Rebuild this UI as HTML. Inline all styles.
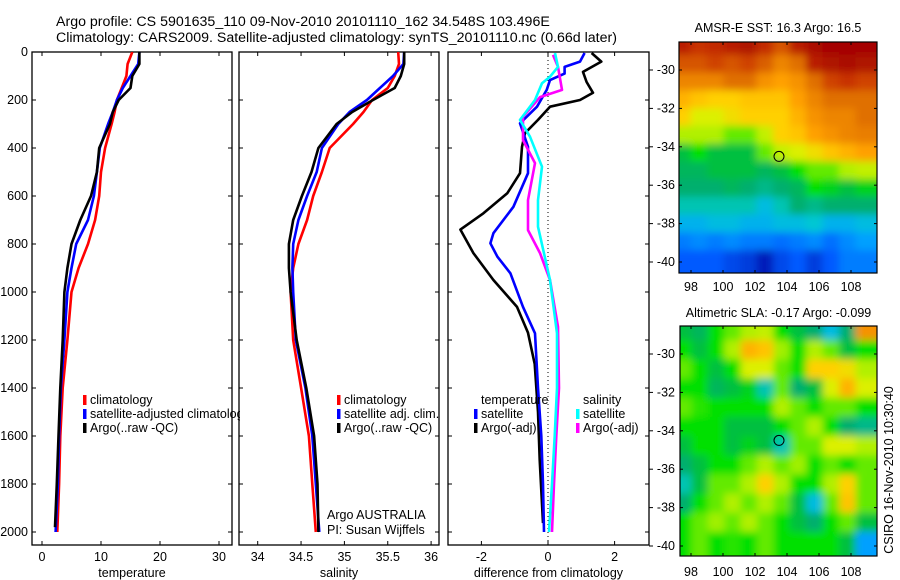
<!DOCTYPE html>
<html><head><meta charset="utf-8">
<style>
html,body{margin:0;padding:0;background:#fff;}
svg{display:block;font-family:"Liberation Sans",sans-serif;}
text{font-size:12.5px;fill:#000;}
</style></head>
<body>
<svg id="fig" width="900" height="580" viewBox="0 0 900 580">
<defs>
<clipPath id="cp1"><rect x="32" y="52" width="200" height="493"/></clipPath>
<clipPath id="cp2"><rect x="239" y="52" width="200" height="493"/></clipPath>
<clipPath id="cp3"><rect x="448" y="52" width="201" height="493"/></clipPath>
<clipPath id="cpLeg"><rect x="32" y="380" width="208" height="60"/></clipPath>
<clipPath id="cpM1"><rect x="679" y="42" width="198" height="231"/></clipPath>
<clipPath id="cpM2"><rect x="680" y="326" width="197" height="230"/></clipPath>
<filter id="bl" x="-10%" y="-10%" width="120%" height="120%"><feGaussianBlur stdDeviation="4"/></filter>
</defs>
<text x="56" y="26" style="font-size:14.2px">Argo profile: CS 5901635_110 09-Nov-2010 20101110_162 34.548S 103.496E</text>
<text x="56" y="42" style="font-size:14.2px">Climatology: CARS2009. Satellite-adjusted climatology: synTS_20101110.nc (0.66d later)</text>
<g id="root"></g>
</svg>
<script>
// ---------- data ----------
const depths = [0,50,100,150,200,250,300,400,500,600,700,800,900,1000,1200,1400,1600,1800,2000];
const tempClim = [15.3,14.5,14.3,13.5,12.7,12.3,11.8,10.7,10.0,9.7,9.0,7.8,6.2,5.0,4.3,3.5,3.1,2.9,2.6];
const tempSat  = [16.5,16.3,15.0,13.7,12.7,12.0,11.2,9.8,9.3,8.8,7.8,5.8,5.0,4.3,3.8,3.2,2.9,2.7,2.3];
const tempArgo = [16.5,16.5,15.3,15.0,13.0,12.0,11.5,9.7,9.3,8.3,6.5,5.0,4.3,3.8,3.5,3.1,2.8,2.5,2.2];
const salClim = [35.62,35.63,35.58,35.50,35.32,35.22,35.10,34.83,34.74,34.64,34.57,34.47,34.41,34.38,34.41,34.50,34.59,34.63,34.67];
const salSat  = [35.69,35.68,35.56,35.41,35.26,35.06,34.93,34.74,34.68,34.57,34.47,34.41,34.40,34.41,34.44,34.55,34.63,34.67,34.71];
const salArgo = [35.69,35.69,35.65,35.58,35.33,35.09,34.91,34.70,34.62,34.51,34.41,34.36,34.36,34.38,34.45,34.56,34.65,34.69,34.70];
const dTsatDepth = [4,40,62,90,117,158,228,297,395,505,645,755,797,853,922,1062,1172,1400,1600,1800,2000];
const dTsat = [1.1,0.96,0.5,0.5,0.06,-0.04,-0.33,-0.84,-0.6,-0.6,-1.04,-1.64,-1.73,-1.52,-1.13,-0.75,-0.39,-0.3,-0.2,-0.15,-0.12];
const dTargoDepth = [4,40,83,125,170,200,228,283,338,395,505,588,672,740,838,950,1062,1170,1300,1500,1700,1963];
const dTargo = [1.31,1.6,1.05,1.16,1.35,0.96,0.06,-0.3,-0.69,-0.78,-0.84,-1.22,-1.94,-2.63,-2.24,-1.64,-0.93,-0.6,-0.4,-0.3,-0.25,-0.15];
const dSsatDepth = [4,62,103,130,200,283,353,478,617,728,950,1172,1400,1600,1800,2000];
const dSsat = [0.21,0.3,0.06,-0.18,-0.39,-0.84,-0.54,-0.18,-0.3,-0.3,0.06,0.27,0.27,0.2,0.12,0.03];
const dSargoDepth = [12,62,158,188,270,367,463,617,742,838,950,1145,1400,1600,1800,2000];
const dSargo = [0.15,0.3,0.42,-0.24,-0.75,-0.75,-0.39,-0.6,-0.6,-0.24,0.06,0.3,0.33,0.25,0.18,0.12];
const depthTicks = [0,200,400,600,800,1000,1200,1400,1600,1800,2000];
const tempTicks = [0,10,20,30];
const salTicks = [34,34.5,35,35.5,36];
const salTickLabels = ["34","34.5","35","35.5","36"];
const diffTicks = [-2,0,2];
const latTicks = [-30,-32,-34,-36,-38,-40];
const lonTicks = [98,100,102,104,106,108];
const sstGrid = [
[.95,.92,.93,.95,.97,.93,.88,.95,.98,.99,.99,.99],
[.88,.88,.90,.88,.90,.87,.82,.85,.95,.97,.98,.97],
[.82,.82,.82,.85,.85,.80,.78,.80,.85,.90,.92,.90],
[.75,.72,.70,.70,.72,.72,.72,.78,.82,.85,.85,.85],
[.70,.65,.65,.68,.70,.70,.70,.75,.80,.82,.82,.85],
[.60,.60,.60,.55,.55,.62,.70,.72,.78,.80,.82,.83],
[.45,.50,.45,.45,.45,.55,.62,.65,.68,.72,.75,.78],
[.42,.42,.45,.45,.45,.42,.45,.50,.55,.55,.60,.62],
[.40,.40,.40,.42,.40,.38,.40,.42,.50,.48,.45,.48],
[.35,.35,.35,.35,.35,.30,.35,.40,.38,.40,.40,.40],
[.28,.28,.30,.30,.28,.28,.30,.30,.32,.28,.28,.30],
[.20,.22,.20,.22,.20,.20,.18,.20,.22,.18,.22,.25],
[.15,.15,.15,.12,.10,.05,.12,.15,.10,.15,.20,.20]];
const slaGrid = [
[.45,.42,.50,.55,.60,.62,.50,.45,.40,.30,.40,.80],
[.50,.45,.50,.60,.75,.72,.58,.50,.60,.55,.45,.50],
[.55,.50,.45,.50,.65,.65,.55,.50,.70,.70,.68,.60],
[.50,.50,.42,.45,.48,.35,.55,.40,.45,.65,.75,.65],
[.55,.52,.50,.50,.50,.50,.60,.55,.50,.55,.55,.50],
[.50,.50,.50,.45,.45,.45,.50,.55,.60,.50,.40,.38],
[.45,.50,.50,.45,.48,.45,.35,.55,.55,.65,.65,.60],
[.40,.45,.50,.50,.55,.60,.55,.58,.50,.55,.50,.55],
[.35,.45,.55,.55,.60,.70,.60,.50,.50,.60,.70,.55],
[.40,.50,.55,.60,.55,.60,.55,.45,.30,.55,.72,.55],
[.50,.55,.58,.55,.60,.55,.50,.45,.40,.50,.55,.45],
[.50,.55,.50,.52,.50,.55,.50,.50,.50,.50,.45,.25]];
const floatLon = [103.5];
const floatLat = [-34.5];

// ---------- helpers ----------
const NS = "http://www.w3.org/2000/svg";
const root = document.getElementById('root');
function mk(tag, attrs, parent){ const e=document.createElementNS(NS,tag); for(const k in attrs) e.setAttribute(k,attrs[k]); (parent||root).appendChild(e); return e; }
const yD = d => 52 + 0.24*d;
const xT = t => 42 + 5.9*t;
const xS = s => 257.7 + 86.7*(s-34);
const xDf = v => 548 + 33.3*v;
function path(xs, ds, xf){ return xs.map((v,i)=>(i?'L':'M')+xf(v).toFixed(1)+','+yD(ds[i]).toFixed(1)).join(' '); }

function panel(x0,w,name,xticks,xlabels,xf,xtitle,leftLabels){
  const g = mk('g',{});
  
  
  const fr = mk('rect',{x:x0,y:52,width:w,height:493,fill:'none',stroke:'#000','stroke-width':1.3},g);
  
  
  depthTicks.forEach(d=>{
    mk('line',{x1:x0,x2:x0+4,y1:yD(d),y2:yD(d),stroke:'#000'},g);
    mk('line',{x1:x0+w-4,x2:x0+w,y1:yD(d),y2:yD(d),stroke:'#000'},g);
    if(leftLabels){
      const t=mk('text',{x:x0-4,y:yD(d)+4,'text-anchor':'end'},g); t.textContent=d;
      
      
    }
  });
  xticks.forEach((v,i)=>{
    const x=xf(v);
    mk('line',{x1:x,x2:x,y1:52,y2:56,stroke:'#000'},g);
    mk('line',{x1:x,x2:x,y1:541,y2:545,stroke:'#000'},g);
    const t=mk('text',{x:x,y:561,'text-anchor':'middle'},g); t.textContent=xlabels[i];
    
    
  });
  const tt=mk('text',{x:x0+w/2,y:577,'text-anchor':'middle'},g); tt.textContent=xtitle;
  
  
  return g;
}
function series(d, color, clip, name){
  const p=mk('path',{d:d,fill:'none',stroke:color,'stroke-width':2.6,'clip-path':'url(#'+clip+')','stroke-linejoin':'round'});
  
  
}
function legend(x,y,color,label,clip){
  const g=mk('g',clip?{'clip-path':'url(#'+clip+')'}:{});
  
  
  if(color) mk('rect',{x:x-7,y:y-9,width:3.5,height:10,fill:color},g);
  const t=mk('text',{x:x,y:y},g); t.textContent=label;
}

// ---------- panel 1 temperature ----------
panel(32,200,'temperature-panel',tempTicks,tempTicks.map(String),xT,'temperature',true);
series(path(tempClim,depths,xT),'#f00','cp1','temp-climatology-line');
series(path(tempSat,depths,xT),'#00f','cp1','temp-satellite-line');
series(path(tempArgo,depths.slice(0,-1).concat([1980]),xT),'#000','cp1','temp-argo-line');
legend(90,404,'#f00','climatology','cpLeg');
legend(90,418,'#00f','satellite-adjusted climatology','cpLeg');
legend(90,432,'#000','Argo(..raw -QC)','cpLeg');

// ---------- panel 2 salinity ----------
panel(239,200,'salinity-panel',salTicks,salTickLabels,xS,'salinity',false);
series(path(salClim,depths,xS),'#f00','cp2','sal-climatology-line');
series(path(salSat,depths,xS),'#00f','cp2','sal-satellite-line');
series(path(salArgo,depths,xS),'#000','cp2','sal-argo-line');
legend(344,404,'#f00','climatology');
legend(344,418,'#00f','satellite adj. clim.');
legend(344,432,'#000','Argo(..raw -QC)');
const a1=mk('text',{x:327,y:519}); a1.textContent='Argo AUSTRALIA';


const a2=mk('text',{x:327,y:534}); a2.textContent='PI: Susan Wijffels';



// ---------- panel 3 differences ----------
panel(448,201,'difference-panel',diffTicks,diffTicks.map(String),xDf,'difference from climatology',false);
mk('line',{x1:xDf(0),x2:xDf(0),y1:52,y2:545,stroke:'#000','stroke-dasharray':'1,3'});
series(path(dTargo,dTargoDepth,xDf),'#000','cp3','dtemp-argo-line');
series(path(dTsat,dTsatDepth,xDf),'#00f','cp3','dtemp-satellite-line');
series(path(dSargo,dSargoDepth,xDf),'#f0f','cp3','dsal-argo-line');
series(path(dSsat,dSsatDepth,xDf),'#0ff','cp3','dsal-satellite-line');
legend(481,404,null,'temperature');
legend(481,418,'#00f','satellite');
legend(481,432,'#000','Argo(-adj)');
legend(583,404,null,'salinity');
legend(583,418,'#0ff','satellite');
legend(583,432,'#f0f','Argo(-adj)');

// ---------- maps ----------
const stops=[[0,[0,0,150]],[.15,[0,90,255]],[.25,[0,160,255]],[.33,[0,205,205]],[.4,[0,175,110]],[.45,[0,192,64]],[.5,[0,224,0]],[.58,[160,240,0]],[.65,[220,240,0]],[.7,[255,208,0]],[.78,[255,160,0]],[.85,[224,112,0]],[.92,[200,48,0]],[1,[160,0,0]]];
function cmap(v){
  for(let i=1;i<stops.length;i++){ if(v<=stops[i][0]){ const a=stops[i-1],b=stops[i],f=(v-a[0])/(b[0]-a[0]); return 'rgb('+a[1].map((c,j)=>Math.round(c+(b[1][j]-c)*f)).join(',')+')'; } }
  return 'rgb(160,0,0)';
}
function map(x0,y0,w,h,lat30y,grid,title,clip,name,lonY,titleY){
  const g=mk('g',{});
  
  
  const lonX = lo => 691 + 16*(lo-98);
  const latY = la => lat30y + 19.2*(-30-la);
  const lon0=(x0-691)/16+98, lon1=(x0+w-691)/16+98;
  const lat0=-30+(lat30y-y0)/19.2, lat1=-30-(y0+h-lat30y)/19.2;
  const cg=mk('g',{'clip-path':'url(#'+clip+')'},g);
  const ig=mk('g',{filter:'url(#bl)'},cg);
  const nr=grid.length, nc=grid[0].length;
  grid.forEach((row,r)=>row.forEach((v,c)=>{
    const la=lat0+(lat1-lat0)*r/nr, lo=lon0+(lon1-lon0)*c/nc;
    let cx=lonX(lo)-5, cy=latY(la)-5, cw=w/nc+10, ch=h/nr+10;
    if(c===0){cx-=15;cw+=15;} if(c===nc-1){cw+=15;}
    if(r===0){cy-=15;ch+=15;} if(r===nr-1){ch+=15;}
    const cell=mk('rect',{x:cx,y:cy,width:cw,height:ch,fill:cmap(v)},ig);
    
    
  }));
  mk('rect',{x:x0,y:y0,width:w,height:h,fill:'none',stroke:'#000','stroke-width':1.2},g);
  floatLon.forEach((lo,i)=>{
    const m=mk('circle',{cx:lonX(lo),cy:latY(floatLat[i]),r:5,fill:'none',stroke:'#000','stroke-width':1},g);
    
    
  });
  latTicks.forEach(la=>{
    const y=latY(la);
    mk('line',{x1:649,x2:653,y1:y,y2:y,stroke:'#000'},g);
    mk('line',{x1:x0,x2:x0+3,y1:y,y2:y,stroke:'#000'},g);
    mk('line',{x1:x0+w-3,x2:x0+w,y1:y,y2:y,stroke:'#000'},g);
    const t=mk('text',{x:675,y:y+4,'text-anchor':'end'},g); t.textContent=la;
    
    
  });
  lonTicks.forEach(lo=>{
    const x=lonX(lo);
    mk('line',{x1:x,x2:x,y1:y0,y2:y0+3,stroke:'#000'},g);
    mk('line',{x1:x,x2:x,y1:y0+h-3,y2:y0+h,stroke:'#000'},g);
    const t=mk('text',{x:x,y:lonY,'text-anchor':'middle'},g); t.textContent=lo;
    
    
  });
  const tt=mk('text',{x:x0+w/2,y:titleY,'text-anchor':'middle'},g); tt.textContent=title;
  
  
}
map(679,42,198,231,70,sstGrid,'AMSR-E SST: 16.3 Argo: 16.5','cpM1','sst-map',291,32);
map(680,326,197,230,354,slaGrid,'Altimetric SLA: -0.17 Argo: -0.099','cpM2','sla-map',576,317);
const cs=mk('text',{x:0,y:0,transform:'translate(893,470) rotate(-90)','text-anchor':'middle'}); cs.textContent='CSIRO 16-Nov-2010 10:30:40';


</script>
</body></html>
